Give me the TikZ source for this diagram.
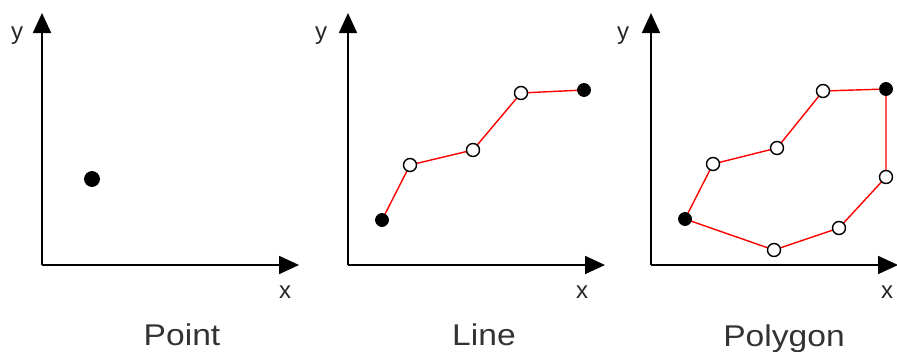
\documentclass[tikz,border=0pt]{standalone}
\usepackage{fontspec}
\setmainfont{Liberation Sans}
\usetikzlibrary{arrows.meta}
\begin{document}
\begin{tikzpicture}[x=1pt,y=-1pt,
  axis/.style={line width=1.8pt,-{Triangle[length=20pt,width=18pt]}},
  edge/.style={red,line width=1.4pt},
  fullpt/.style={circle,fill=black,draw=black,line width=0.8pt,inner sep=0pt,minimum size=13pt},
  openpt/.style={circle,fill=white,draw=black,line width=1.4pt,inner sep=0pt,minimum size=13pt},
  axlabel/.style={font=\fontsize{24}{24}\selectfont,text=black!85,inner sep=0pt},
  title/.style={font=\fontsize{30}{30}\selectfont,text=black!80,inner sep=0pt,anchor=base,xscale=1.12,transform shape}]
\useasboundingbox (0,0) rectangle (897,351);
% Panel 1
\coordinate (o1) at (42,265);
\coordinate (y1) at (42,13);
\coordinate (x1) at (299,265);
\draw[axis] (o1) -- (y1);
\draw[axis] (o1) -- (x1);
\node[axlabel] (ly1) at (17,36) {y};
\node[axlabel] (lx1) at (285,292) {x};
\node[title] (t1) at (182,345) {Point};
\node[fullpt,minimum size=15pt] (p1) at (92,179) {};
% Panel 2
\coordinate (o2) at (348,265);
\coordinate (y2) at (348,13);
\coordinate (x2) at (605,265);
\draw[axis] (o2) -- (y2);
\draw[axis] (o2) -- (x2);
\node[axlabel] (ly2) at (321,36) {y};
\node[axlabel] (lx2) at (582,292) {x};
\node[title] (t2) at (484,345) {Line};
\coordinate (a1) at (382,220);
\coordinate (a2) at (410,165);
\coordinate (a3) at (473,150);
\coordinate (a4) at (521,93);
\coordinate (a5) at (584,90);
\draw[edge] (a1) -- (a2) -- (a3) -- (a4) -- (a5);
\node[fullpt] (na1) at (a1) {};
\node[openpt] (na2) at (a2) {};
\node[openpt] (na3) at (a3) {};
\node[openpt] (na4) at (a4) {};
\node[fullpt] (na5) at (a5) {};
% Panel 3
\coordinate (o3) at (651,265);
\coordinate (y3) at (651,13);
\coordinate (x3) at (898,265);
\draw[axis] (o3) -- (y3);
\draw[axis] (o3) -- (x3);
\node[axlabel] (ly3) at (623,36) {y};
\node[axlabel] (lx3) at (887,292) {x};
\node[title] (t3) at (784,346) {Polygon};
\coordinate (b1) at (685,219);
\coordinate (b2) at (713,164);
\coordinate (b3) at (777,148);
\coordinate (b4) at (823,91);
\coordinate (b5) at (886,89);
\coordinate (b6) at (886,177);
\coordinate (b7) at (839,228);
\coordinate (b8) at (774,250);
\draw[edge] (b1) -- (b2) -- (b3) -- (b4) -- (b5) -- (b6) -- (b7) -- (b8) -- cycle;
\node[fullpt] (nb1) at (b1) {};
\node[openpt] (nb2) at (b2) {};
\node[openpt] (nb3) at (b3) {};
\node[openpt] (nb4) at (b4) {};
\node[fullpt] (nb5) at (b5) {};
\node[openpt] (nb6) at (b6) {};
\node[openpt] (nb7) at (b7) {};
\node[openpt] (nb8) at (b8) {};
\end{tikzpicture}
\end{document}
